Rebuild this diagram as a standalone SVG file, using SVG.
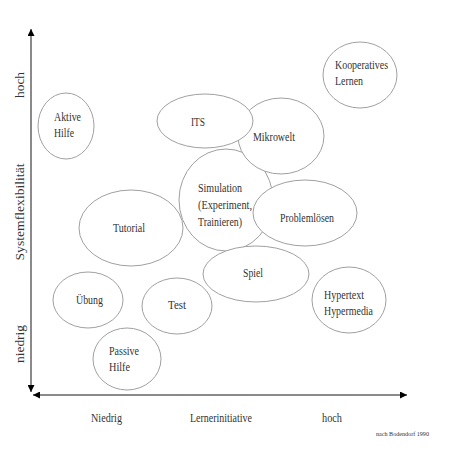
<svg xmlns="http://www.w3.org/2000/svg" width="459" height="469" viewBox="0 0 459 469">
<defs>
<marker id="arr" viewBox="0 0 10 10" refX="10" refY="5" markerWidth="7" markerHeight="7" markerUnits="userSpaceOnUse" orient="auto-start-reverse">
<path d="M0,0 L10,5 L0,10 z" fill="#000"/>
</marker>
<style>
.n ellipse{fill:#fff;stroke:#a0a0a0;stroke-width:1}
text{font-family:"Liberation Serif","Times New Roman",serif;fill:#333;font-size:13px}
.ax{stroke:#8a8a8a;stroke-width:2;fill:none}
</style>
</defs>
<rect width="459" height="469" fill="#fff"/>
<g id="connectors">
<line class="ax" x1="31" y1="392" x2="31" y2="29" marker-start="url(#arr)" marker-end="url(#arr)"/>
<line class="ax" x1="33" y1="395" x2="407" y2="395" marker-start="url(#arr)" marker-end="url(#arr)"/>
</g>
<g id="axis-labels">
<text transform="translate(24,85) rotate(-90)" text-anchor="middle" textLength="26" lengthAdjust="spacingAndGlyphs">hoch</text>
<text transform="translate(24,212) rotate(-90)" text-anchor="middle" textLength="97" lengthAdjust="spacingAndGlyphs">Systemflexibilität</text>
<text transform="translate(24,344) rotate(-90)" text-anchor="middle" textLength="38" lengthAdjust="spacingAndGlyphs">niedrig</text>
<text x="91" y="422" textLength="31" lengthAdjust="spacingAndGlyphs">Niedrig</text>
<text x="190" y="422" textLength="62" lengthAdjust="spacingAndGlyphs">Lernerinitiative</text>
<text x="322" y="422" textLength="20" lengthAdjust="spacingAndGlyphs">hoch</text>
<text x="376" y="436" style="font-size:6px" textLength="53" lengthAdjust="spacingAndGlyphs">nach Bodendorf 1990</text>
</g>
<g id="simulation" class="n"><ellipse cx="226" cy="200" rx="47" ry="51"/>
<text x="198" y="192" textLength="44" lengthAdjust="spacingAndGlyphs">Simulation</text>
<text x="198" y="209" textLength="54" lengthAdjust="spacingAndGlyphs">(Experiment,</text>
<text x="198" y="226" textLength="44" lengthAdjust="spacingAndGlyphs">Trainieren)</text></g>
<g id="mikrowelt" class="n"><ellipse cx="281" cy="136" rx="43" ry="38"/>
<text x="253" y="141" textLength="42" lengthAdjust="spacingAndGlyphs">Mikrowelt</text></g>
<g id="problemloesen" class="n"><ellipse cx="305" cy="213" rx="52" ry="33"/>
<text x="280" y="222" textLength="54" lengthAdjust="spacingAndGlyphs">Problemlösen</text></g>
<g id="spiel" class="n"><ellipse cx="256" cy="274" rx="53" ry="28"/>
<text x="243" y="277" textLength="20" lengthAdjust="spacingAndGlyphs">Spiel</text></g>
<g id="its" class="n"><ellipse cx="205" cy="121" rx="48" ry="27"/>
<text x="191" y="126" textLength="14" lengthAdjust="spacingAndGlyphs">ITS</text></g>
<g id="aktive-hilfe" class="n"><ellipse cx="66" cy="126" rx="28" ry="33"/>
<text x="54" y="121" textLength="27" lengthAdjust="spacingAndGlyphs">Aktive</text>
<text x="54" y="137" textLength="20" lengthAdjust="spacingAndGlyphs">Hilfe</text></g>
<g id="kooperatives-lernen" class="n"><ellipse cx="360" cy="75" rx="37" ry="33"/>
<text x="335" y="69" textLength="53" lengthAdjust="spacingAndGlyphs">Kooperatives</text>
<text x="335" y="85" textLength="28" lengthAdjust="spacingAndGlyphs">Lernen</text></g>
<g id="tutorial" class="n"><ellipse cx="131" cy="228" rx="52" ry="38"/>
<text x="113" y="232" textLength="32" lengthAdjust="spacingAndGlyphs">Tutorial</text></g>
<g id="uebung" class="n"><ellipse cx="88" cy="300" rx="35" ry="28"/>
<text x="76" y="304" textLength="27" lengthAdjust="spacingAndGlyphs">Übung</text></g>
<g id="test" class="n"><ellipse cx="177" cy="306" rx="35" ry="28"/>
<text x="168" y="309" textLength="18" lengthAdjust="spacingAndGlyphs">Test</text></g>
<g id="passive-hilfe" class="n"><ellipse cx="127" cy="359" rx="34" ry="31"/>
<text x="109" y="355" textLength="30" lengthAdjust="spacingAndGlyphs">Passive</text>
<text x="109" y="371" textLength="21" lengthAdjust="spacingAndGlyphs">Hilfe</text></g>
<g id="hypertext-hypermedia" class="n"><ellipse cx="349" cy="300" rx="37" ry="33"/>
<text x="324" y="299" textLength="40" lengthAdjust="spacingAndGlyphs">Hypertext</text>
<text x="324" y="315" textLength="49" lengthAdjust="spacingAndGlyphs">Hypermedia</text></g>
</svg>
